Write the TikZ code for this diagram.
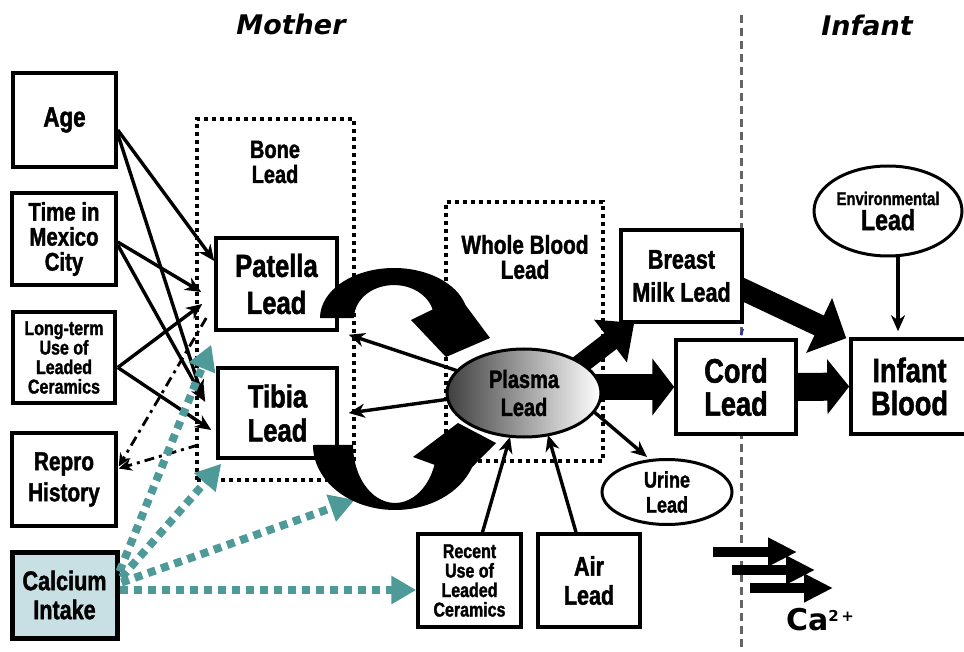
\documentclass[tikz,border=0pt]{standalone}
\usepackage{fontspec}
\usetikzlibrary{arrows.meta,calc,shapes.geometric}
\newfontfamily\cond{Liberation Sans}[FakeStretch=0.8, BoldFeatures={FakeBold=1.5}]
\newfontfamily\dvs{DejaVu Sans}
\newcommand\fsz[2]{\fontsize{#1}{#2}\selectfont\lineskiplimit=-20pt}
\definecolor{tealc}{RGB}{78,154,152}
\definecolor{calfill}{RGB}{200,224,228}
\definecolor{dashgray}{RGB}{100,100,100}
\definecolor{dashblue}{RGB}{50,50,170}
\pgfdeclarelayer{bg}
\pgfsetlayers{bg,main}
\begin{document}
\begin{tikzpicture}[x=1pt,y=-1pt,
  box/.style={draw, line width=3.5pt, fill=white, inner sep=0pt, align=center, font=\cond\bfseries},
  ell/.style={draw, ellipse, line width=3pt, fill=white, inner sep=0pt, align=center, font=\cond\bfseries},
  lbl/.style={inner sep=0pt, align=center, font=\cond\bfseries},
  dotbox/.style={draw, line width=3.5pt, dash pattern=on 4pt off 4pt, inner sep=0pt},
  thinarr/.style={line width=3.4pt, -{Stealth[length=16pt,width=14pt,inset=5pt]}},
  dashdot/.style={line width=2.8pt, dash pattern=on 10pt off 5pt on 3pt off 5pt, -{Stealth[length=13pt,width=12pt,inset=4pt]}},
  tealarr/.style={draw=tealc, line width=8pt, dash pattern=on 8pt off 6pt, -{Triangle[length=25pt,width=27pt,fill=tealc]}},
  curvearr/.style={fill=black}
]
\useasboundingbox (0,0) rectangle (964,652);

% titles
\node[inner sep=0pt, font=\dvs\bfseries\itshape\fsz{27}{28}] (mother) at (291,24) {Mother};
\node[inner sep=0pt, font=\dvs\bfseries\itshape\fsz{27}{28}] (infanttitle) at (867,25) {Infant};

% dotted compartments
\node[dotbox, minimum width=157pt, minimum height=361pt] (bonebox) at (275.5,299.5) {};
\node[dotbox, minimum width=157pt, minimum height=259pt] (wholebox) at (524.5,331.5) {};
\node[lbl, font=\cond\bfseries\fsz{25}{25}] (bonelbl) at (275,162) {Bone\\Lead};
\node[lbl, font=\cond\bfseries\fsz{26}{25}] (wholelbl) at (525,257) {Whole Blood\\Lead};

% left column
\node[box, minimum width=103pt, minimum height=94pt, font=\cond\bfseries\fsz{28}{26}] (age) at (64.5,120) {Age};
\node[box, minimum width=104pt, minimum height=92pt, font=\cond\bfseries\fsz{25.5}{25}] (time) at (64,239) {Time in\\Mexico\\City};
\node[box, minimum width=102pt, minimum height=91pt, font=\cond\bfseries\fsz{20}{19.5}] (longterm) at (64,357.5) {Long-term\\Use of\\Leaded\\Ceramics};
\node[box, minimum width=104pt, minimum height=93pt, font=\cond\bfseries\fsz{26}{31}] (repro) at (64,479.5) {Repro\\History};
\node[box, line width=5pt, fill=calfill, minimum width=105pt, minimum height=86pt, font=\cond\bfseries\fsz{27}{29}] (calcium) at (64.5,595) {Calcium\\Intake};

% bone
\node[box, minimum width=121pt, minimum height=92pt, font=\cond\bfseries\fsz{32}{37}] (patella) at (276.5,284) {Patella\\Lead};
\node[box, minimum width=119pt, minimum height=90pt, font=\cond\bfseries\fsz{32}{34}] (tibia) at (277.5,413) {Tibia\\Lead};

% blood
\node[ell, left color=black!75, right color=white, minimum width=154pt, minimum height=88pt, font=\cond\bfseries\fsz{25}{28}] (plasma) at (524,393) {Plasma\\Lead};
\node[ell, minimum width=130pt, minimum height=65pt, font=\cond\bfseries\fsz{22.5}{25}] (urine) at (667,492) {Urine\\Lead};
\node[box, minimum width=103pt, minimum height=93pt, font=\cond\bfseries\fsz{20}{19.5}] (recent) at (469.5,580.5) {Recent\\Use of\\Leaded\\Ceramics};
\node[box, minimum width=102pt, minimum height=93pt, font=\cond\bfseries\fsz{27}{29}] (air) at (589,580.5) {Air\\Lead};

% right side
\node[box, minimum width=121pt, minimum height=92pt, font=\cond\bfseries\fsz{27}{33}] (breast) at (681.5,276) {Breast\\Milk Lead};
\node[box, minimum width=120pt, minimum height=94pt, font=\cond\bfseries\fsz{34}{33}] (cord) at (736,387) {Cord\\Lead};
\node[box, minimum width=117pt, minimum height=95pt, font=\cond\bfseries\fsz{34}{33}] (infant) at (909.5,386.5) {Infant\\Blood};
\node[ell, minimum width=148pt, minimum height=90pt, font=\cond\bfseries\fsz{29}{25}] (env) at (888,211) {{\fsz{18.5}{18}Environmental}\\Lead};

\node[inner sep=0pt, font=\dvs\bfseries\fsz{30}{30}] (ca) at (820,620) {Ca\raisebox{9pt}{\fsz{15}{15}2\,+}};

\coordinate (dtop) at (741,15);
\coordinate (dbot) at (741,652);

\begin{pgfonlayer}{bg}
  \draw[dashgray, line width=3pt, dash pattern=on 8pt off 5pt] (dtop) -- (dbot);
  \draw[dashblue, line width=2.5pt] ($(breast.south east)+(-1,5)$) -- ($(cord.north)+(5,-3)$);
  % block arrows
  \draw[line width=20pt, -{Triangle[length=30pt,width=52pt]}] ($(plasma.center)+(45,-20)$) -- ($(breast.south west)+(15,-1)$);
  \draw[line width=26pt, -{Triangle[length=22pt,width=56pt]}] ($(plasma.center)+(60,-6)$) -- (cord.west);
  \draw[line width=28pt, -{Triangle[length=22pt,width=54pt]}] (cord.east) -- (infant.west);
  \draw[line width=22pt, -{Triangle[length=30pt,width=59pt]}] ($(breast.east)+(-4,12)$) -- ($(infant.north west)+(-3,1)$);
  % thin arrows from / to plasma
  \draw[thinarr] ($(plasma.center)+(-60,-20)$) -- ($(patella.south east)+(10,3)$);
  \draw[thinarr] ($(plasma.center)+(-60,4)$) -- ($(tibia.east)+(10,0)$);
  \draw[thinarr] ($(plasma.center)+(62,12)$) -- ($(urine.north)+(-20,-1)$);
\end{pgfonlayer}

\draw[thinarr] ($(recent.north)+(13,0)$) -- ($(plasma.center)+(-14,44)$);
\draw[thinarr] ($(air.north)+(-13,0)$) -- ($(plasma.center)+(24,42)$);
\draw[thinarr] ($(env.south)+(10,0)$) -- ($(infant.north)+(-11.5,-6)$);

% left arrows
\draw[thinarr] ($(age.east)+(0,10)$) -- ($(patella.west)+(0,-23)$);
\draw[thinarr] ($(age.east)+(0,14)$) -- ($(tibia.west)+(-14,-17)$);
\draw[thinarr] ($(time.east)+(0,3)$) -- ($(patella.west)+(-13,8)$);
\draw[thinarr] ($(time.east)+(0,6)$) -- ($(tibia.west)+(-11,-11)$);
\draw[thinarr] ($(longterm.east)+(1,10)$) -- ($(patella.west)+(-12,20)$);
\draw[thinarr] ($(longterm.east)+(1,10)$) -- ($(tibia.west)+(-5,17)$);

\draw[dashdot] ($(patella.west)+(-8,34)$) -- ($(repro.east)+(1,-13)$);
\draw[dashdot] ($(tibia.west)+(-18,32)$) -- ($(repro.east)+(1,-11)$);

% calcium
\draw[tealarr] ($(calcium.north east)+(0,22)$) -- ($(patella.south west)+(-3,13)$);
\draw[tealarr] ($(calcium.north east)+(2,28)$) -- ($(tibia.south west)+(5,4)$);
\draw[tealarr] ($(calcium.north east)+(2,33)$) -- ($(tibia.south east)+(16,40)$);
\draw[tealarr] ($(calcium.east)+(0,-5)$) -- ($(recent.west)+(0,9.5)$);

% curved exchange arrows between bone and plasma
\fill[curvearr] (320,318) arc[start angle=180,end angle=345,x radius=74,y radius=50]
  -- (490,338) -- (446,357) -- (411,320) -- (432.6,309.5)
  arc[start angle=-15,end angle=-180,x radius=40,y radius=33] -- cycle;
\fill[curvearr] (313,445) arc[start angle=180,end angle=20,x radius=82,y radius=65]
  -- (496,443) -- (458,423) -- (413,457) -- (434.5,464.8)
  arc[start angle=20,end angle=180,x radius=42,y radius=58] -- cycle;

% Ca arrows
\coordinate (ca1s) at (713,552); \coordinate (ca1e) at (797,552);
\coordinate (ca2s) at (732,570); \coordinate (ca2e) at (815,570);
\coordinate (ca3s) at (750,588); \coordinate (ca3e) at (833,588);
\draw[line width=10pt, -{Triangle[length=29pt,width=27pt]}] (ca1s) -- (ca1e);
\draw[line width=10pt, -{Triangle[length=29pt,width=27pt]}] (ca2s) -- (ca2e);
\draw[line width=10pt, -{Triangle[length=29pt,width=27pt]}] (ca3s) -- (ca3e);
\end{tikzpicture}
\end{document}
